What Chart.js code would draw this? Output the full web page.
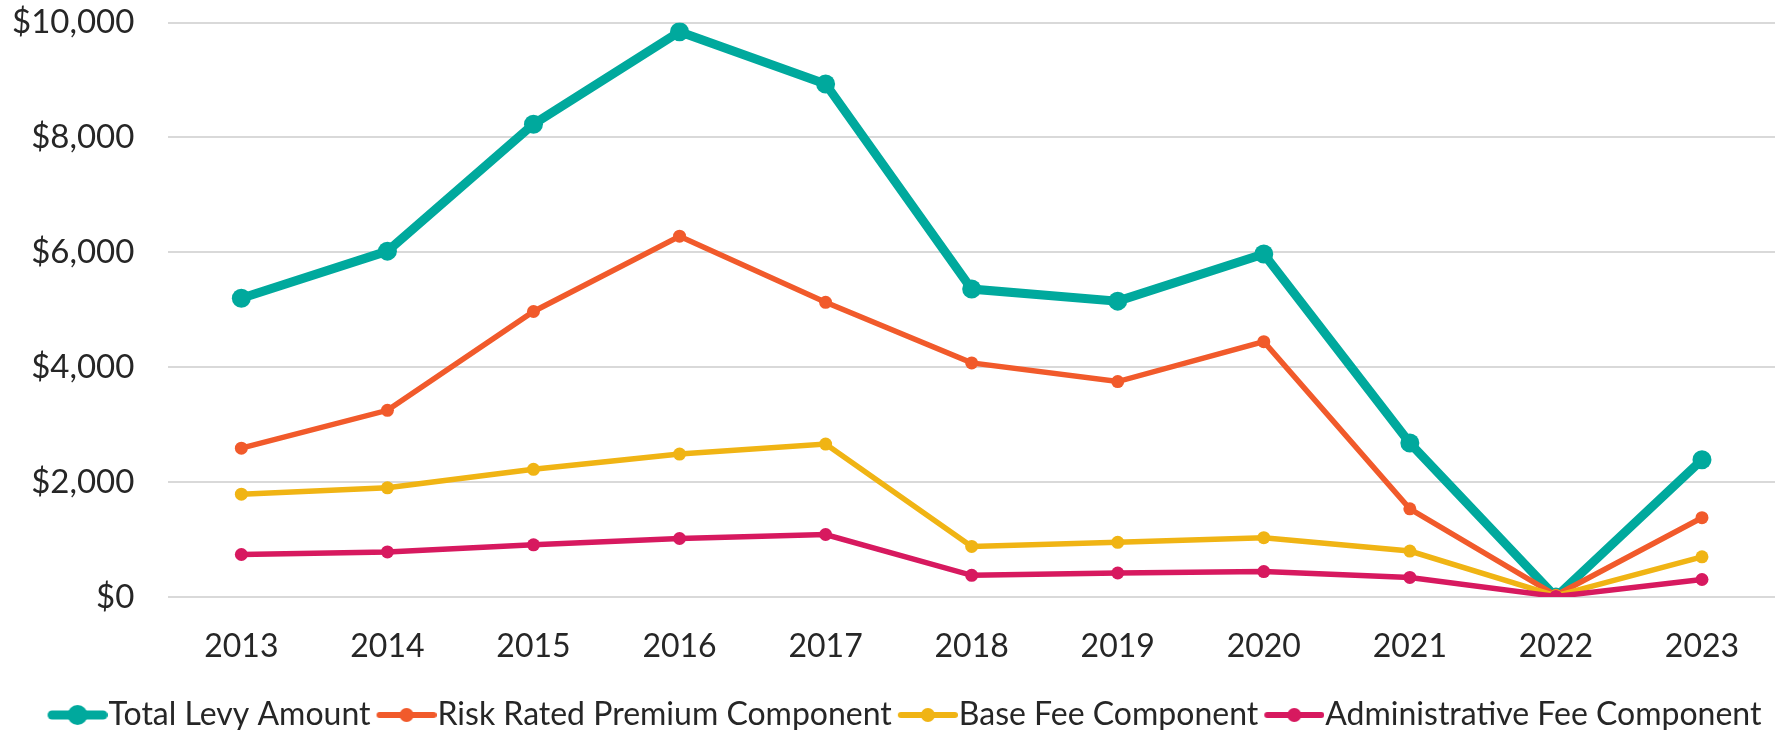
<!DOCTYPE html>
<html>
<head>
<meta charset="utf-8">
<script src="https://cdn.jsdelivr.net/npm/chart.js@4.4.1/dist/chart.umd.min.js"></script>
<style>
html,body{margin:0;padding:0;background:#fff;}
#wrap{width:1787px;height:730px;position:relative;}
</style>
</head>
<body>
<div id="wrap"><canvas id="c" width="1787" height="730"></canvas></div>
<script>
const years = ['2013','2014','2015','2016','2017','2018','2019','2020','2021','2022','2023'];
const totalLevy = [5200, 6020, 8230, 9840, 8930, 5360, 5150, 5970, 2680, 0, 2390];
const riskRated = [2590, 3250, 4970, 6280, 5130, 4075, 3750, 4445, 1535, 30, 1380];
const baseFee = [1790, 1900, 2222, 2488, 2662, 880, 952, 1033, 800, 20, 700];
const adminFee = [740, 785, 908, 1018, 1088, 378, 418, 443, 340, 10, 305];
const seriesNames = ['Total Levy Amount','Risk Rated Premium Component','Base Fee Component','Administrative Fee Component'];
const colors = ['#00a99d','#f15a2b','#f0b414','#d7195f'];

const FONT = 'Lato';
const LEG_FS = 32;
const LEG_GAP = 4;
const BOXW = LEG_GAP + 61 - LEG_FS / 2;

function legendIcon(color, lw, r) {
  const half = (LEG_GAP + 60) - BOXW / 2;
  const W = Math.round(half * 2);
  const cv = document.createElement('canvas');
  cv.width = W; cv.height = 24;
  const ctx = cv.getContext('2d');
  const x0 = W - 60;
  ctx.strokeStyle = color; ctx.lineWidth = lw; ctx.lineCap = 'round';
  ctx.beginPath(); ctx.moveTo(x0 + lw/2, 12); ctx.lineTo(x0 + 60 - lw/2, 12); ctx.stroke();
  ctx.fillStyle = color;
  ctx.beginPath(); ctx.arc(x0 + 30, 12, r, 0, Math.PI*2); ctx.fill();
  return cv;
}
const icons = [legendIcon(colors[0], 9, 10), legendIcon(colors[1], 6, 7), legendIcon(colors[2], 6, 7), legendIcon(colors[3], 6, 7)];

const seriesData = [totalLevy, riskRated, baseFee, adminFee];
const datasets = seriesData.map((d, i) => ({
  label: seriesNames[i],
  data: d,
  borderColor: colors[i],
  backgroundColor: colors[i],
  borderWidth: i === 0 ? 9 : 5.5,
  pointRadius: i === 0 ? 9.5 : 6.5,
  pointHoverRadius: i === 0 ? 9.5 : 6.5,
  pointBorderWidth: 0,
  pointBackgroundColor: colors[i],
  tension: 0,
  order: 4 - i
}));

const shiftLegend = {
  id: 'shiftLegend',
  afterLayout(chart) {
    if (chart.legend) { chart.legend.left += 12; chart.legend.right += 12; }
  }
};

new Chart(document.getElementById('c'), {
  type: 'line',
  data: { labels: years, datasets },
  plugins: [shiftLegend],
  options: {
    responsive: false,
    animation: false,
    devicePixelRatio: 1,
    layout: { padding: { left: 6, right: 12, top: 0, bottom: -11 } },
    plugins: {
      tooltip: { enabled: false },
      legend: {
        position: 'bottom',
        labels: {
          usePointStyle: true,
          pointStyleWidth: BOXW,
          boxHeight: 24,
          padding: 2,
          color: '#262626',
          font: { family: FONT, size: LEG_FS, lineHeight: 1 },
          generateLabels: (chart) => chart.data.datasets.map((ds, i) => ({
            text: ds.label,
            fillStyle: colors[i],
            strokeStyle: colors[i],
            lineWidth: 0,
            pointStyle: icons[i],
            fontColor: '#262626',
            datasetIndex: i,
            hidden: false
          }))
        }
      }
    },
    scales: {
      x: {
        offset: true,
        grid: { display: false, drawTicks: false },
        border: { display: false },
        ticks: { color: '#262626', font: { family: FONT, size: 32, lineHeight: 1 }, padding: 34, maxRotation: 0 }
      },
      y: {
        min: 0, max: 10000,
        grid: { color: '#d9d9d9', lineWidth: 2, drawTicks: true, tickLength: 28, tickColor: 'rgba(0,0,0,0)' },
        border: { display: false },
        ticks: {
          stepSize: 2000,
          color: '#262626',
          font: { family: FONT, size: 33, lineHeight: 1 },
          padding: 6,
          callback: (v) => '$' + v.toLocaleString('en-US')
        }
      }
    }
  }
});
</script>
</body>
</html>
